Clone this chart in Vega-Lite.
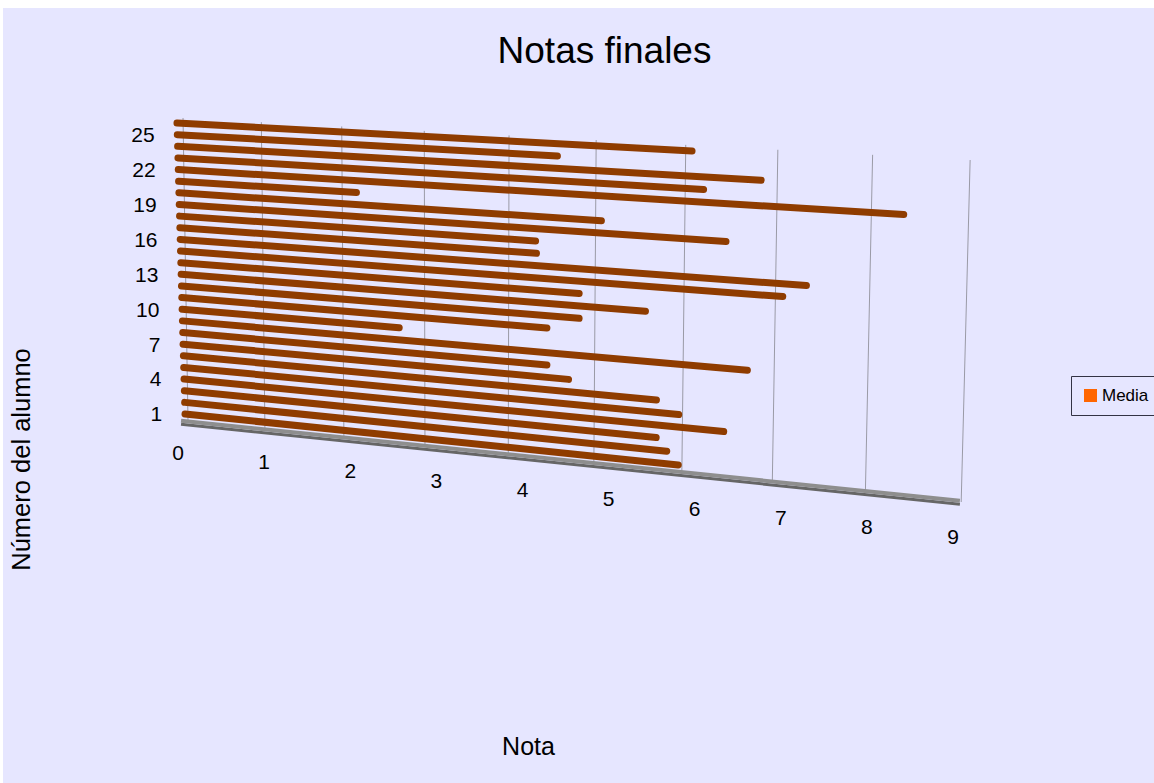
{
"$schema":"https://vega.github.io/schema/vega-lite/v6.json",
"width":1151,"height":775,
"autosize":{"type":"none"},
"padding":{"left":3,"top":8,"right":0,"bottom":0},
"background":"#FFFFFF",
"view":{"fill":"#E6E6FF","stroke":null},
"title":{"text":"Notas finales","font":"Liberation Sans","fontSize":37,"fontWeight":"normal","color":"#000000","anchor":"middle","dx":26,"offset":-63},
"datasets":{
"notas":[
{"alumno":1,"nota":5.98,"serie":"Media"},{"alumno":2,"nota":5.85,"serie":"Media"},{"alumno":3,"nota":5.73,"serie":"Media"},{"alumno":4,"nota":6.48,"serie":"Media"},{"alumno":5,"nota":5.98,"serie":"Media"},{"alumno":6,"nota":5.73,"serie":"Media"},{"alumno":7,"nota":4.73,"serie":"Media"},{"alumno":8,"nota":4.48,"serie":"Media"},{"alumno":9,"nota":6.73,"serie":"Media"},{"alumno":10,"nota":2.73,"serie":"Media"},{"alumno":11,"nota":4.48,"serie":"Media"},{"alumno":12,"nota":4.85,"serie":"Media"},{"alumno":13,"nota":5.6,"serie":"Media"},{"alumno":14,"nota":4.85,"serie":"Media"},{"alumno":15,"nota":7.1,"serie":"Media"},{"alumno":16,"nota":7.35,"serie":"Media"},{"alumno":17,"nota":4.36,"serie":"Media"},{"alumno":18,"nota":4.35,"serie":"Media"},{"alumno":19,"nota":6.48,"serie":"Media"},{"alumno":20,"nota":5.1,"serie":"Media"},{"alumno":21,"nota":2.23,"serie":"Media"},{"alumno":22,"nota":8.35,"serie":"Media"},{"alumno":23,"nota":6.23,"serie":"Media"},{"alumno":24,"nota":6.85,"serie":"Media"},{"alumno":25,"nota":4.6,"serie":"Media"},{"alumno":26,"nota":6.1,"serie":"Media"}],
"ejeNota":[{"n":0},{"n":1},{"n":2},{"n":3},{"n":4},{"n":5},{"n":6},{"n":7},{"n":8},{"n":9}],
"ejeAlumno":[{"a":1},{"a":4},{"a":7},{"a":10},{"a":13},{"a":16},{"a":19},{"a":22},{"a":25}],
"suelo":[{"s":"base"}]
},
"layer":[
{"data":{"name":"ejeNota"},
"transform":[
{"calculate":"(datum.n/(1-0.0129*datum.n))/10.18","as":"t"},
{"calculate":"0.035+(9.013-0.035)*datum.t","as":"xb"},
{"calculate":"-0.023+(9.117+0.023)*datum.t","as":"xt"},
{"calculate":"0.4+(-6.56-0.4)*datum.t","as":"yb"},
{"calculate":"26.43+(22.82-26.43)*datum.t","as":"yt"}],
"mark":{"type":"rule","stroke":"#9A9AA6","strokeWidth":1},
"encoding":{
"x":{"field":"xb","type":"quantitative","scale":{"domain":[-2.1138,11.2544],"nice":false,"zero":false},
 "axis":{"title":"Nota","labels":false,"ticks":false,"domain":false,"grid":false,"titleFont":"Liberation Sans","titleFontSize":25,"titleFontWeight":"normal","titleColor":"#000000","titleX":525,"titleY":-37,"titleBaseline":"middle","titleAlign":"center"}},
"x2":{"field":"xt"},
"y":{"field":"yb","type":"quantitative","scale":{"domain":[-30.7,35.88],"nice":false,"zero":false},
 "axis":{"title":"Número del alumno","labels":false,"ticks":false,"domain":false,"grid":false,"titleFont":"Liberation Sans","titleFontSize":25.5,"titleFontWeight":"normal","titleColor":"#000000","titleX":18,"titleY":451,"titleAngle":270,"titleBaseline":"middle","titleAlign":"center"}},
"y2":{"field":"yt"}}},
{"data":{"name":"suelo"},
"transform":[{"calculate":"-0.046","as":"x1"},{"calculate":"9.0","as":"x2b"},{"calculate":"0.12","as":"y1"},{"calculate":"-6.75","as":"y2b"}],
"mark":{"type":"rule","stroke":"#666666","strokeWidth":3},
"encoding":{"x":{"field":"x1","type":"quantitative"},"x2":{"field":"x2b"},"y":{"field":"y1","type":"quantitative"},"y2":{"field":"y2b"}}},
{"data":{"name":"suelo"},
"transform":[{"calculate":"-0.046","as":"x1"},{"calculate":"9.0","as":"x2b"},{"calculate":"0.42","as":"y1"},{"calculate":"-6.45","as":"y2b"}],
"mark":{"type":"rule","stroke":"#8E8E8E","strokeWidth":4},
"encoding":{"x":{"field":"x1","type":"quantitative"},"x2":{"field":"x2b"},"y":{"field":"y1","type":"quantitative"},"y2":{"field":"y2b"}}},
{"data":{"name":"notas"},
"transform":[
{"calculate":"(datum.nota/(1-0.0129*datum.nota))/10.18","as":"t"},
{"calculate":"-(datum.alumno-1)*0.00372","as":"x0"},
{"calculate":"9.0+(datum.alumno-1)*0.00418","as":"xR"},
{"calculate":"-5.873+(datum.alumno-1)*1.127","as":"yR"},
{"calculate":"datum.x0+(datum.xR-datum.x0)*datum.t","as":"x1"},
{"calculate":"datum.alumno+(datum.yR-datum.alumno)*datum.t","as":"y1"}],
"mark":{"type":"rule","strokeWidth":7,"strokeCap":"round"},
"encoding":{
"x":{"field":"x0","type":"quantitative"},"x2":{"field":"x1"},
"y":{"field":"alumno","type":"quantitative"},"y2":{"field":"y1"},
"color":{"field":"serie","type":"nominal","scale":{"domain":["Media"],"range":["#8F3C00"]},
"legend":{"title":null,"orient":"none","legendX":1068,"legendY":368,"symbolType":"square","symbolSize":169,"labelFont":"Liberation Sans","labelFontSize":17,"labelColor":"#000000","strokeColor":"#333344","fillColor":"#E6E6FF","padding":11,"labelOffset":3,
"encode":{"symbols":{"update":{"fill":{"value":"#FF6600"},"stroke":{"value":"#FF6600"},"strokeWidth":{"value":0},"opacity":{"value":1}}}}}}}},
{"data":{"name":"ejeNota"},
"transform":[{"calculate":"datum.n-0.08","as":"lx"},{"calculate":"-2.42-0.8*datum.n","as":"ly"}],
"mark":{"type":"text","font":"Liberation Sans","fontSize":21,"color":"#000000","align":"center","baseline":"middle"},
"encoding":{"x":{"field":"lx","type":"quantitative"},"y":{"field":"ly","type":"quantitative"},"text":{"field":"n","type":"nominal"}}},
{"data":{"name":"ejeAlumno"},
"transform":[{"calculate":"-0.26-datum.a*0.0037","as":"lx"},{"calculate":"datum.a-0.12","as":"ly"}],
"mark":{"type":"text","font":"Liberation Sans","fontSize":21,"color":"#000000","align":"right","baseline":"middle"},
"encoding":{"x":{"field":"lx","type":"quantitative"},"y":{"field":"ly","type":"quantitative"},"text":{"field":"a","type":"nominal"}}}
]
}
